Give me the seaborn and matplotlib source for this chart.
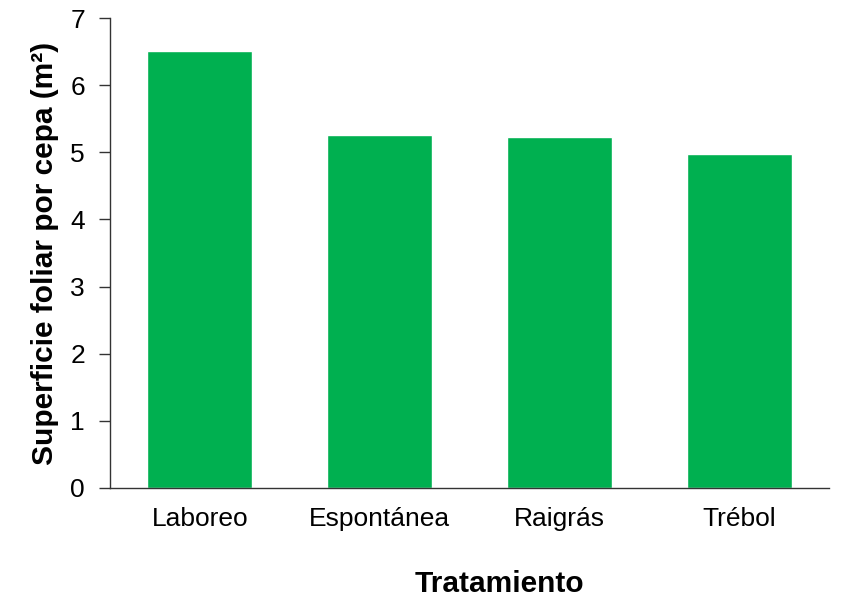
import pandas as pd
import seaborn as sns
import matplotlib.pyplot as plt

# Datos
tratamientos = ["Laboreo", "Espontánea", "Raigrás", "Trébol"]
superficie = [6.51, 5.26, 5.23, 4.97]

df = pd.DataFrame({"Tratamiento": tratamientos, "Superficie": superficie})

sns.set_style("white")
plt.rcParams['font.family'] = ['Liberation Sans', 'DejaVu Sans']
plt.rcParams['text.color'] = 'black'
plt.rcParams['axes.labelcolor'] = 'black'
plt.rcParams['xtick.color'] = 'black'
plt.rcParams['ytick.color'] = 'black'

fig = plt.figure(figsize=(8.41, 6), dpi=100)
ax = fig.add_axes([0.1308, 0.1867, 0.8549, 0.7833])

sns.barplot(data=df, x="Tratamiento", y="Superficie", color="#00B050",
            width=0.585, saturation=1, ax=ax)

ax.set_xlim(-0.5, 3.5)
ax.set_ylim(0, 7)
ax.set_yticks(range(0, 8))
sns.despine(ax=ax)
for side in ["left", "bottom"]:
    ax.spines[side].set_color("#333333")
    ax.spines[side].set_linewidth(1.0)

ax.tick_params(axis="y", direction="out", length=8, width=1, color="#333333",
               labelsize=19, pad=10, left=True)
ax.tick_params(axis="x", length=0, labelsize=19, pad=14)

ax.set_xlabel("Tratamiento", fontsize=21.5, fontweight="bold", labelpad=28)
ax.xaxis.label.set_x(0.542)
ax.set_ylabel("Superficie foliar por cepa (m²)", fontsize=21.5,
              fontweight="bold", labelpad=8)

fig.savefig("out.png", dpi=100)
